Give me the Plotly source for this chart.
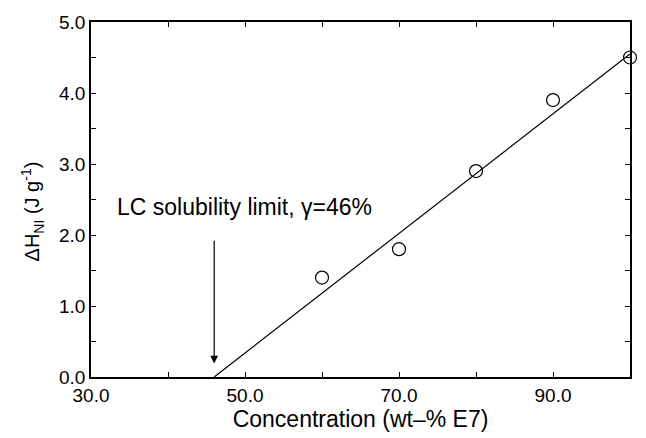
import plotly.graph_objects as go

# Measured nematic-isotropic transition enthalpy vs. LC concentration
concentration = [60, 70, 80, 90, 100]
delta_h = [1.4, 1.8, 2.9, 3.9, 4.5]

# Linear fit, extrapolated down to zero enthalpy
fit_x = [46, 100]
fit_y = [0.0, 4.55]

# Solubility limit marker
limit_x = 46
arrow_top = 1.94
arrow_tip = 0.19

x_ticks = [30, 50, 70, 90]
x_tick_labels = ["30.0", "50.0", "70.0", "90.0"]
y_ticks = [0, 1, 2, 3, 4, 5]
y_tick_labels = ["0.0", "1.0", "2.0", "3.0", "4.0", "5.0"]

FONT = "Liberation Sans, Arial, sans-serif"

fig = go.Figure()
fig.add_trace(go.Scatter(
    x=fit_x, y=fit_y, mode="lines",
    line=dict(color="black", width=1.2),
    showlegend=False, hoverinfo="skip",
))
fig.add_trace(go.Scatter(
    x=concentration, y=delta_h, mode="markers",
    marker=dict(symbol="circle-open", size=13, color="black",
                line=dict(width=1.2, color="black")),
    showlegend=False, cliponaxis=False,
))

fig.add_annotation(
    x=limit_x, y=arrow_tip, ax=limit_x, ay=arrow_top,
    xref="x", yref="y", axref="x", ayref="y",
    text="", showarrow=True, arrowhead=2, arrowsize=1.3,
    arrowwidth=1.2, arrowcolor="black",
)
fig.add_annotation(
    x=33.1, y=2.39, xref="x", yref="y", xanchor="left", yanchor="middle",
    text="LC solubility limit, γ=46%", showarrow=False,
    font=dict(family=FONT, size=23, color="black"),
)
fig.add_annotation(
    x=-0.109, y=0.467, xref="paper", yref="paper",
    xanchor="center", yanchor="middle",
    text="ΔH<sub>NI</sub> (J g<sup>-1</sup>)", showarrow=False, textangle=-90,
    font=dict(family=FONT, size=20, color="black"),
)

axis_common = dict(
    showgrid=False, zeroline=False, showline=True, linecolor="black",
    linewidth=1.5, mirror="ticks", ticks="inside", ticklen=5,
    tickwidth=1.2, tickcolor="black",
    tickfont=dict(family=FONT, size=19, color="black"),
)

fig.update_layout(
    width=646, height=438,
    margin=dict(l=91, r=16, t=13, b=61),
    paper_bgcolor="white", plot_bgcolor="white",
    xaxis=dict(
        range=[30, 100], tickmode="array", tickvals=x_ticks,
        ticktext=x_tick_labels,
        minor=dict(dtick=10, tick0=30, ticks="inside", ticklen=5,
                   tickcolor="black", tickwidth=1.2),
        title=dict(text="Concentration (wt–% E7)", standoff=0,
                   font=dict(family=FONT, size=23, color="black")),
        **axis_common,
    ),
    yaxis=dict(
        range=[0, 5], tickmode="array", tickvals=y_ticks,
        ticktext=y_tick_labels,
        minor=dict(dtick=0.5, tick0=0, ticks="inside", ticklen=5,
                   tickcolor="black", tickwidth=1.2),
        **axis_common,
    ),
)

fig.write_html("out.html")
